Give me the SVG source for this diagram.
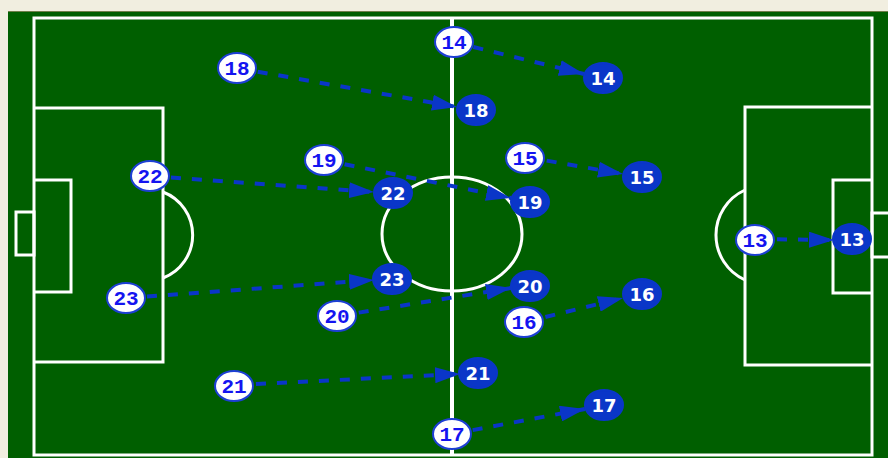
<svg xmlns="http://www.w3.org/2000/svg" width="888" height="458" viewBox="0 0 888 458">
<style>
.ln{fill:none;stroke:#ffffff;stroke-width:3}
.con{fill:none;stroke:#0a36c8;stroke-width:4;stroke-dasharray:10 11;marker-end:url(#ah)}
.wn ellipse{fill:#ffffff;stroke:#1d3fd4;stroke-width:2}
.wn text{fill:#1414f0;font-family:"Liberation Mono",monospace;font-weight:bold;font-size:21px;text-anchor:middle}
.bn ellipse{fill:#0a36c8;stroke:#0a36c8;stroke-width:2}
.bn text{fill:#ffffff;font-family:"DejaVu Sans",sans-serif;font-weight:bold;font-size:18px;text-anchor:middle}
</style>
<defs>
<marker id="ah" markerUnits="userSpaceOnUse" markerWidth="26" markerHeight="16" refX="25" refY="8" orient="auto">
<path d="M0,0 L25,8 L0,16 z" fill="#0a36c8" stroke="none"/>
</marker>
</defs>
<rect x="0" y="0" width="888" height="458" fill="#f1eee0"/>
<rect x="8" y="11" width="880" height="447" fill="#005f00"/>
<line x1="8" y1="11.5" x2="888" y2="11.5" stroke="#6f7f4a" stroke-width="1"/>
<g id="pitch">
<rect class="ln" x="34" y="18" width="838" height="437"/>
<line class="ln" x1="452" y1="18" x2="452" y2="455" style="stroke-width:4"/>
<ellipse class="ln" cx="452" cy="234" rx="70" ry="57"/>
<path class="ln" d="M34,108 H163 V362 H34"/>
<path class="ln" d="M34,180 H71 V292 H34"/>
<rect class="ln" x="16" y="212" width="18" height="43"/>
<path class="ln" d="M163,192 A46,46 0 0 1 163,278"/>
<path class="ln" d="M872,107 H745 V365 H872"/>
<path class="ln" d="M872,180 H833 V293 H872"/>
<rect class="ln" x="872" y="213" width="20" height="44"/>
<path class="ln" d="M745,190 A49.4,49.4 0 0 0 745,280"/>
</g>
<g id="connectors">
<line class="con" x1="453" y1="42" x2="584" y2="74"/>
<line class="con" x1="237" y1="68" x2="457" y2="107"/>
<line class="con" x1="150" y1="176" x2="374" y2="192"/>
<line class="con" x1="324" y1="160" x2="511" y2="198"/>
<line class="con" x1="526" y1="157" x2="623" y2="174"/>
<line class="con" x1="756" y1="239" x2="834" y2="240"/>
<line class="con" x1="126" y1="298" x2="374" y2="280"/>
<line class="con" x1="338" y1="316" x2="511" y2="288"/>
<line class="con" x1="525" y1="322" x2="623" y2="298"/>
<line class="con" x1="235" y1="385" x2="460" y2="374"/>
<line class="con" x1="452" y1="434" x2="585" y2="409"/>
</g>
<g id="w14" class="wn"><ellipse cx="454" cy="42" rx="19" ry="15"/><text x="454" y="49">14</text></g>
<g id="w18" class="wn"><ellipse cx="237" cy="68" rx="19" ry="15"/><text x="237" y="75">18</text></g>
<g id="w19" class="wn"><ellipse cx="324" cy="160" rx="19" ry="15"/><text x="324" y="167">19</text></g>
<g id="w15" class="wn"><ellipse cx="525" cy="158" rx="19" ry="15"/><text x="525" y="165">15</text></g>
<g id="w22" class="wn"><ellipse cx="150" cy="176" rx="19" ry="15"/><text x="150" y="183">22</text></g>
<g id="w13" class="wn"><ellipse cx="755" cy="240" rx="19" ry="15"/><text x="755" y="247">13</text></g>
<g id="w23" class="wn"><ellipse cx="126" cy="298" rx="19" ry="15"/><text x="126" y="305">23</text></g>
<g id="w20" class="wn"><ellipse cx="337" cy="316" rx="19" ry="15"/><text x="337" y="323">20</text></g>
<g id="w16" class="wn"><ellipse cx="524" cy="322" rx="19" ry="15"/><text x="524" y="329">16</text></g>
<g id="w21" class="wn"><ellipse cx="234" cy="386" rx="19" ry="15"/><text x="234" y="393">21</text></g>
<g id="w17" class="wn"><ellipse cx="452" cy="434" rx="19" ry="15"/><text x="452" y="441">17</text></g>
<g id="b14" class="bn"><ellipse cx="603" cy="78" rx="19" ry="15"/><text x="603" y="85">14</text></g>
<g id="b18" class="bn"><ellipse cx="476" cy="110" rx="19" ry="15"/><text x="476" y="117">18</text></g>
<g id="b15" class="bn"><ellipse cx="642" cy="177" rx="19" ry="15"/><text x="642" y="184">15</text></g>
<g id="b22" class="bn"><ellipse cx="393" cy="193" rx="19" ry="15"/><text x="393" y="200">22</text></g>
<g id="b19" class="bn"><ellipse cx="530" cy="202" rx="19" ry="15"/><text x="530" y="209">19</text></g>
<g id="b13" class="bn"><ellipse cx="852" cy="239" rx="19" ry="15"/><text x="852" y="246">13</text></g>
<g id="b23" class="bn"><ellipse cx="392" cy="279" rx="19" ry="15"/><text x="392" y="286">23</text></g>
<g id="b20" class="bn"><ellipse cx="530" cy="286" rx="19" ry="15"/><text x="530" y="293">20</text></g>
<g id="b16" class="bn"><ellipse cx="642" cy="294" rx="19" ry="15"/><text x="642" y="301">16</text></g>
<g id="b21" class="bn"><ellipse cx="478" cy="373" rx="19" ry="15"/><text x="478" y="380">21</text></g>
<g id="b17" class="bn"><ellipse cx="604" cy="405" rx="19" ry="15"/><text x="604" y="412">17</text></g>
</svg>
